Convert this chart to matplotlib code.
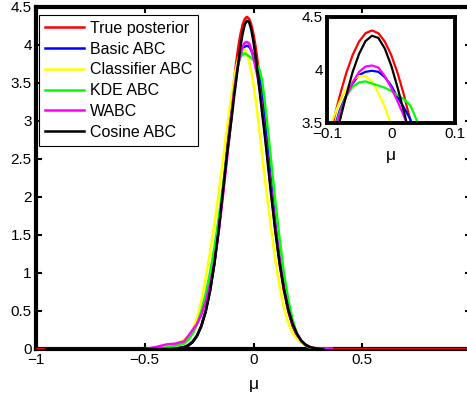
import numpy as np
import matplotlib
matplotlib.use("Agg")
import matplotlib.pyplot as plt

plt.rcParams['font.family'] = ['Liberation Sans', 'DejaVu Sans']

nan = np.nan

# evaluation grid for mu
mu = [-1, -0.95, -0.5, -0.45, -0.4, -0.36, -0.32, -0.3, -0.28, -0.26,
      -0.24, -0.22, -0.2, -0.18, -0.16, -0.14, -0.12, -0.1, -0.09, -0.08,
      -0.07, -0.06, -0.05, -0.04, -0.03, -0.02, -0.01, 0, 0.01, 0.02,
      0.03, 0.04, 0.05, 0.06, 0.08, 0.1, 0.12, 0.14, 0.16, 0.18,
      0.2, 0.22, 0.24, 0.26, 0.28, 0.3, 0.32, 0.34, 0.36, 0.4, 1]

true_post = [0, 0, 0, 0, 0.001, 0.006, 0.027, 0.054, 0.1, 0.179,
             0.305, 0.494, 0.763, 1.123, 1.575, 2.105, 2.68, 3.251, 3.516, 3.758,
             3.968, 4.139, 4.266, 4.344, 4.37, 4.344, 4.266, 4.139, 3.968, 3.758,
             3.516, 3.251, 2.969, 2.68, 2.105, 1.575, 1.123, 0.763, 0.494, 0.305,
             0.179, 0.1, 0.054, 0.027, 0.013, 0.006, 0.003, 0.001, 0, 0, 0]

basic_abc = [nan, nan, nan, nan, 0, 0.005, 0.02, 0.045, 0.09, 0.17,
             0.3, 0.5, 0.77, 1.13, 1.57, 2.07, 2.62, 3.15, 3.42, 3.62,
             3.76, 3.87, 3.95, 3.98, 3.99, 3.98, 3.93, 3.85, 3.74, 3.64,
             3.53, 3.36, 3.1, 2.82, 2.22, 1.66, 1.18, 0.8, 0.51, 0.31,
             0.18, 0.1, 0.05, 0.022, 0.008, 0.002, 0, nan, nan, nan, nan]

classifier_abc = [nan, nan, nan, 0, 0.02, 0.06, 0.12, 0.17, 0.25, 0.4,
                  0.63, 0.93, 1.27, 1.64, 2.05, 2.5, 2.95, 3.37, 3.55, 3.7,
                  3.82, 3.9, 3.94, 3.94, 3.89, 3.78, 3.65, 3.48, 3.28, 3.05,
                  2.8, 2.55, 2.3, 2.06, 1.6, 1.18, 0.82, 0.54, 0.34, 0.21,
                  0.13, 0.08, 0.05, 0.03, 0.015, 0.006, 0.002, 0.001, 0, nan, nan]

kde_abc = [nan, nan, nan, 0, 0.02, 0.04, 0.07, 0.12, 0.2, 0.32,
           0.5, 0.72, 1.0, 1.33, 1.72, 2.15, 2.6, 3.08, 3.4, 3.6,
           3.75, 3.84, 3.88, 3.89, 3.87, 3.85, 3.83, 3.8, 3.76, 3.72,
           3.66, 3.52, 3.3, 3.05, 2.5, 1.95, 1.45, 1.0, 0.65, 0.38,
           0.2, 0.1, 0.045, 0.018, 0.005, 0, nan, nan, nan, nan, nan]

wabc = [nan, nan, 0, 0.025, 0.06, 0.07, 0.1, 0.17, 0.25, 0.33,
        0.45, 0.62, 0.85, 1.15, 1.55, 2.03, 2.55, 3.1, 3.38, 3.58,
        3.75, 3.88, 3.98, 4.03, 4.04, 4.02, 3.94, 3.83, 3.7, 3.56,
        3.4, 3.15, 2.9, 2.64, 2.12, 1.62, 1.17, 0.8, 0.52, 0.32,
        0.19, 0.1, 0.05, 0.025, 0.012, 0.006, 0.003, 0.001, 0, nan, nan]

cosine_abc = [nan, 0, 0, 0, 0.001, 0.004, 0.02, 0.045, 0.09, 0.17,
              0.3, 0.49, 0.76, 1.12, 1.57, 2.09, 2.6, 3.05, 3.3, 3.52,
              3.76, 3.98, 4.15, 4.27, 4.32, 4.3, 4.2, 4.04, 3.83, 3.6,
              3.35, 3.1, 2.86, 2.6, 2.06, 1.56, 1.13, 0.79, 0.52, 0.33,
              0.2, 0.11, 0.055, 0.025, 0.01, 0.004, 0, nan, nan, nan, nan]

series = [("True posterior", true_post, "#ff0000"),
          ("Basic ABC", basic_abc, "#0000ff"),
          ("Classifier ABC", classifier_abc, "#ffff00"),
          ("KDE ABC", kde_abc, "#00ff00"),
          ("WABC", wabc, "#ff00ff"),
          ("Cosine ABC", cosine_abc, "#000000")]

fig = plt.figure(figsize=(4.67, 3.98), dpi=100)
ax = fig.add_axes([36 / 467, 49 / 398, 435 / 467, 342 / 398])
for name, vals, col in series:
    ax.plot(mu, vals, color=col, lw=1.8, label=name, zorder=3)

ax.set_xlim(-1, 1)
ax.set_ylim(0, 4.5)
ax.set_xticks([-1, -0.5, 0, 0.5, 1])
ax.set_xticklabels(["\u22121", "\u22120.5", "0", "0.5", "1"])
ax.set_yticks([0, 0.5, 1, 1.5, 2, 2.5, 3, 3.5, 4, 4.5])
ax.set_yticklabels(["0", "0.5", "1", "1.5", "2", "2.5", "3", "3.5", "4", "4.5"])
ax.tick_params(direction="in", length=4, width=1.5, top=True, right=True,
               labelsize=11, pad=3)
for s in ax.spines.values():
    s.set_linewidth(3)
ax.set_xlabel("\u03bc", fontsize=12.5, labelpad=7)

leg = ax.legend(loc="upper left", bbox_to_anchor=(0.007, 0.977), borderaxespad=0,
                fontsize=11.5, handlelength=2.45, handletextpad=0.35,
                labelspacing=0.36, borderpad=0.38, fancybox=False, framealpha=1)
leg.get_frame().set_edgecolor("black")
leg.get_frame().set_linewidth(0.8)

# zoomed inset around the peak
axi = fig.add_axes([327 / 467, 275.3 / 398, 128.4 / 467, 106 / 398])
for name, vals, col in series:
    axi.plot(mu, vals, color=col, lw=1.6)
axi.set_xlim(-0.1, 0.1)
axi.set_ylim(3.5, 4.5)
axi.set_xticks([-0.1, 0, 0.1])
axi.set_xticklabels(["\u22120.1", "0", "0.1"])
axi.set_yticks([3.5, 4, 4.5])
axi.set_yticklabels(["3.5", "4", "4.5"])
axi.tick_params(direction="in", length=0, labelsize=11, pad=3)
for s in axi.spines.values():
    s.set_linewidth(2.8)
axi.set_xlabel("\u03bc", fontsize=12.5, labelpad=5)

fig.savefig("out.png", dpi=100)
